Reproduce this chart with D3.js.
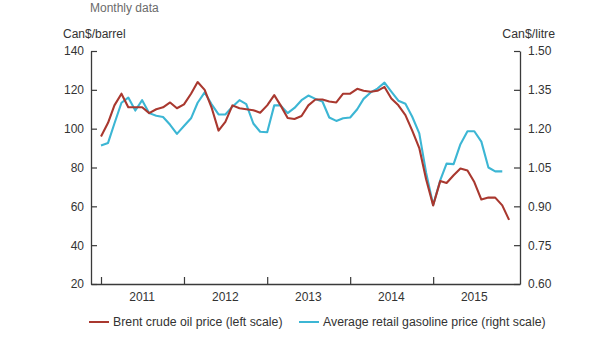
<!DOCTYPE html>
<html>
<head>
<meta charset="utf-8">
<script src="https://cdn.jsdelivr.net/npm/d3@7"></script>
<style>
  html, body { margin: 0; padding: 0; background: #fff; }
  svg { display: block; font-family: "Liberation Sans", Arial, sans-serif; }
</style>
</head>
<body>
<script>
// monthly data, Jan 2011 onward
const startMonth = new Date(2011, 0, 1);

// Brent crude oil price, Can$/barrel (left scale), Jan 2011 - Dec 2015
const brent = [
  96, 103, 112, 118, 111, 111, 111, 108, 110, 111, 113.5, 110.5,
  112.5, 118, 124, 120, 111, 99, 103.5, 112, 110.5, 110, 109.5, 108.2,
  112, 117.3, 112, 105.5, 105, 106.5, 112, 115, 115, 114, 113.5, 118,
  118, 120.5, 119.5, 119, 119.5, 121.5, 115.5, 112, 107, 99, 90, 74,
  60.5, 73, 72, 76, 79.5, 78.5, 72.5, 63.5, 64.5, 64.5, 60.5, 53
];

// Average retail gasoline price, Can$/litre (right scale), Jan 2011 - Nov 2015
const gasoline = [
  1.135, 1.145, 1.22, 1.30, 1.32, 1.27, 1.31, 1.26, 1.25, 1.245, 1.215, 1.18,
  1.21, 1.24, 1.30, 1.34, 1.295, 1.255, 1.255, 1.285, 1.31, 1.295, 1.22, 1.188,
  1.186, 1.29, 1.29, 1.26, 1.28, 1.31, 1.328, 1.315, 1.305, 1.243, 1.23, 1.24,
  1.243, 1.275, 1.315, 1.34, 1.355, 1.378, 1.343, 1.308, 1.296, 1.246, 1.182, 1.03,
  0.905, 1.00, 1.065, 1.063, 1.14, 1.19, 1.19, 1.15, 1.05, 1.035, 1.035
];

const leftTicks = [20, 40, 60, 80, 100, 120, 140];
const rightTicks = [0.60, 0.75, 0.90, 1.05, 1.20, 1.35, 1.50];
const years = [2011, 2012, 2013, 2014, 2015];

const width = 616, height = 346;
const red = "#a9382f", blue = "#3cb6d4", axisColor = "#3a3a3a", textColor = "#333";

const svg = d3.select("body").append("svg")
  .attr("width", width).attr("height", height);

const x = d3.scaleTime()
  .domain([new Date(2010, 10, 18), new Date(2016, 0, 18)])
  .range([91, 520]);
const yL = d3.scaleLinear().domain([20, 140]).range([284, 51]);
const yR = d3.scaleLinear().domain([0.60, 1.50]).range([284, 51]);

const monthAt = i => d3.timeMonth.offset(startMonth, i);

// axes
const styleAxis = g => {
  g.selectAll(".domain").attr("stroke", axisColor).attr("stroke-width", 1.3);
  g.selectAll(".tick line").attr("stroke", axisColor).attr("stroke-width", 1.2);
  g.selectAll("text").attr("fill", textColor).attr("font-size", 12);
  g.attr("font-family", null);
};

svg.append("g")
  .attr("transform", "translate(91,0)")
  .call(d3.axisLeft(yL).tickValues(leftTicks).tickSizeInner(-6).tickSizeOuter(0).tickPadding(7))
  .call(styleAxis);

svg.append("g")
  .attr("transform", "translate(520,0)")
  .call(d3.axisRight(yR).tickValues(rightTicks).tickSizeInner(-6).tickSizeOuter(0)
    .tickPadding(8).tickFormat(d3.format(".2f")))
  .call(styleAxis);

svg.append("g")
  .attr("transform", "translate(0,284)")
  .call(d3.axisBottom(x).tickValues(years.map(y => new Date(y, 0, 1)))
    .tickSizeInner(-7).tickSizeOuter(0).tickFormat(""))
  .call(styleAxis);

// year labels centred on each year
svg.append("g")
  .selectAll("text")
  .data(years)
  .join("text")
  .attr("x", d => x(new Date(d, 6, 1)))
  .attr("y", 301)
  .attr("text-anchor", "middle")
  .attr("font-size", 12)
  .attr("fill", textColor)
  .text(d => d);

// lines
const lineL = d3.line().x((d, i) => x(monthAt(i))).y(d => yL(d));
const lineR = d3.line().x((d, i) => x(monthAt(i))).y(d => yR(d));

svg.append("path")
  .datum(gasoline)
  .attr("fill", "none")
  .attr("stroke", blue)
  .attr("stroke-width", 2.1)
  .attr("stroke-linejoin", "round")
  .attr("d", lineR);

svg.append("path")
  .datum(brent)
  .attr("fill", "none")
  .attr("stroke", red)
  .attr("stroke-width", 2.1)
  .attr("stroke-linejoin", "round")
  .attr("d", lineL);

// titles
svg.append("text").attr("x", 90).attr("y", 12)
  .attr("font-size", 12).attr("fill", "#6b6b6b").text("Monthly data");
svg.append("text").attr("x", 63).attr("y", 38)
  .attr("font-size", 12).attr("fill", textColor).text("Can$/barrel");
svg.append("text").attr("x", 555).attr("y", 38).attr("text-anchor", "end")
  .attr("font-size", 12.3).attr("fill", textColor).text("Can$/litre");

// legend
const legend = [
  { label: "Brent crude oil price (left scale)", color: red, x: 89 },
  { label: "Average retail gasoline price (right scale)", color: blue, x: 299 }
];
const lg = svg.append("g").selectAll("g").data(legend).join("g")
  .attr("transform", d => `translate(${d.x},322)`);
lg.append("line").attr("x1", 0).attr("x2", 20)
  .attr("stroke", d => d.color).attr("stroke-width", 2);
lg.append("text").attr("x", 24).attr("y", 4.2)
  .attr("font-size", 12.3).attr("fill", textColor).text(d => d.label);
</script>
</body>
</html>
